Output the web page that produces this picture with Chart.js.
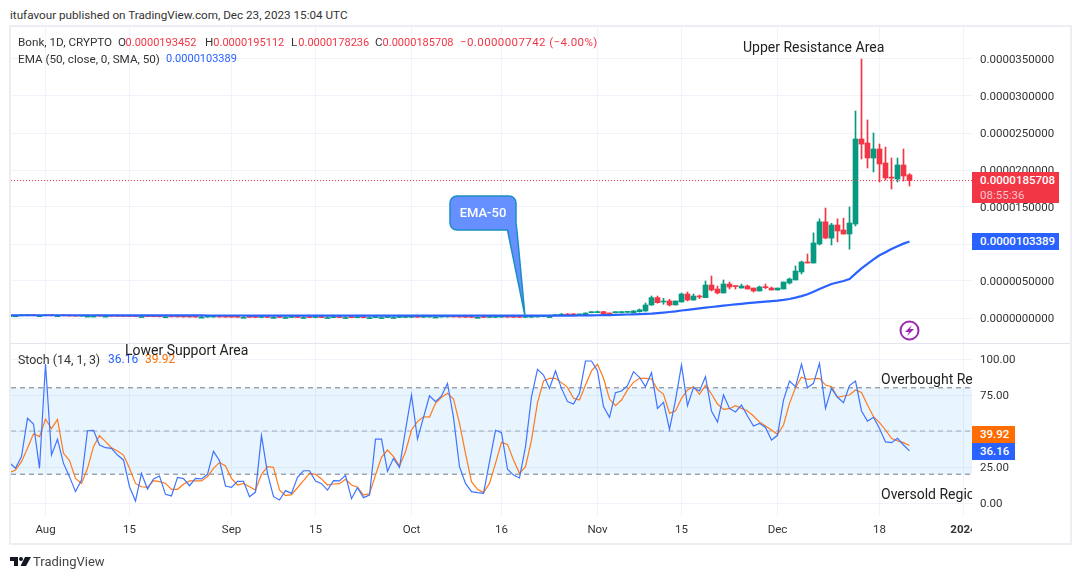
<!DOCTYPE html>
<html lang="en">
<head>
<meta charset="UTF-8">
<title>Bonk, 1D, CRYPTO</title>
<script src="https://cdn.jsdelivr.net/npm/chart.js@4"></script>
<style>
  body, html { margin: 0; height: 579px; width: 1080px; background: #fff; overflow: hidden; }
  body { font-family: Roboto, sans-serif; font-size: 11.7px; color: #333; position: relative; }
  .abs { position: absolute; white-space: nowrap; }
  canvas { position: absolute; }
  #frame { left: 9px; top: 25px; width: 1059px; height: 516px; border: 2px solid #eceef4; }
  #divider { left: 11px; top: 343px; width: 1059px; height: 1px; background: #e3e5ec; }
  #axisCover { left: 972px; top: 517px; width: 97px; height: 26px; background: #fff; }
  .note { font-size: 14px; color: #222; line-height: 18px; overflow: hidden; }
  .tag { color: #fff; font-size: 11.5px; font-weight: 500; padding-left: 8px; box-sizing: border-box; height: 17px; line-height: 17px; }
  .val { font-size: 11px; }
  .red { color: #f23645; } .blue { color: #2962ff; } .orange { color: #ff6d00; }
</style>
</head>
<body>
<div class="abs" style="left:10px;top:8px">itufavour published on TradingView.com, Dec 23, 2023 15:04 UTC</div>
<div class="abs" id="frame"></div>
<canvas id="priceChart" width="1059" height="316" style="left:11px;top:27px"></canvas>
<canvas id="stochChart" width="1059" height="199" style="left:11px;top:344px"></canvas>
<div class="abs" id="divider"></div>
<div class="abs" id="axisCover"></div>

<div class="abs" style="left:18px;top:35px">Bonk, 1D, CRYPTO</div>
<div class="abs" style="left:118px;top:35px">O<span class="red val" style="margin-left:-.5px">0.0000193452</span></div>
<div class="abs" style="left:205px;top:35px">H<span class="red val">0.0000195112</span></div>
<div class="abs" style="left:291px;top:35px">L<span class="red val" style="margin-left:1px">0.0000178236</span></div>
<div class="abs" style="left:375px;top:35px">C<span class="red val">0.0000185708</span></div>
<div class="abs red" style="left:460px;top:35px;font-size:11.5px;letter-spacing:.4px">−0.0000007742 (−4.00%)</div>
<div class="abs" style="left:18px;top:52px">EMA (50, close, 0, SMA, 50)</div>
<div class="abs blue val" style="left:166px;top:52px">0.0000103389</div>
<div class="abs" style="left:18px;top:352px;font-size:12.4px">Stoch (14, 1, 3)</div>
<div class="abs blue" style="left:108px;top:352px;font-size:12px">36.16</div>
<div class="abs orange" style="left:145px;top:352px;font-size:12px">39.92</div>

<div class="abs note" style="left:743px;top:38px">Upper Resistance Area</div>
<div class="abs note" style="left:125px;top:341px">Lower Support Area</div>
<div class="abs note" style="left:881px;top:370px;width:91px">Overbought Region</div>
<div class="abs note" style="left:881px;top:485px;width:91px">Oversold Region</div>

<div class="abs tag" style="left:972px;top:172px;width:87px;height:31px;background:#f23645;line-height:15px;padding-top:1px">0.0000185708<br><span style="color:#fbc4ca;font-weight:400">08:55:36</span></div>
<div class="abs tag" style="left:972px;top:233px;width:87px;background:#2962ff">0.0000103389</div>
<div class="abs tag" style="left:972px;top:426px;width:43px;background:#ff6d00">39.92</div>
<div class="abs tag" style="left:972px;top:443px;width:43px;background:#2962ff">36.16</div>

<svg class="abs" width="1080" height="579" style="left:0;top:0;pointer-events:none">
  <path d="M457,196 H509 A7,7 0 0 1 516,203 V223 L517,231 L525,316 L507.5,230 H457 A7,7 0 0 1 450,223 V203 A7,7 0 0 1 457,196 Z" fill="#6690ff" stroke="#1a8fc4" stroke-width="1.5"/>
  <text x="483" y="216.5" text-anchor="middle" fill="#fff" font-family="Roboto, sans-serif" font-size="13" font-weight="500">EMA-50</text>
  <circle cx="909.5" cy="330.5" r="9" fill="#fff" stroke="#9c27b0" stroke-width="2"/>
  <path d="M912,325 L905,332 H909 L907,336 L914,329 H910 Z" fill="#9c27b0"/>
  <path d="M10,557 H18 V566 H14 V561 H10 Z" fill="#131722"/>
  <circle cx="21" cy="559" r="2" fill="#131722"/>
  <path d="M25,557 H31 L26,566 H20.5 Z" fill="#131722"/>
</svg>
<div class="abs" style="left:33px;top:554px;font-size:13px;color:#444">TradingView</div>

<script>
// bars run daily, x is days since Aug 1 2023 (-6 = Jul 26). prices are in millionths
const firstDay = -6;
const opens = [
  .30,.30,.30,.31,.32,.31,.31,.32,.31,.31, .30,.27,.25,.26,.26,.26,.25,.25,.24,.23,
  .22,.21,.20,.20,.19,.18,.17,.17,.16,.15, .14,.13,.12,.12,.13,.14,.13,.12,.11,.10,
  .10,.09,.08,.09,.08,.08,.07,.07,.08,.07, .07,.06,.07,.06,.06,.07,.06,.06,.05,.06,
  .05,.05,.06,.06,.07,.07,.08,.09,.11,.10, .12,.13,.13,.14,.15,.14,.12,.10,.09,.09,
  .08,.09,.11,.12,.11,.10,.09,.10,.14,.18, .19,
  .31,.38,.47,.50,.42,.38,.72,.72,.86,.60, .72,.73,.76,.70,.85,.95,1.76,2.75,2.16,2.30,
  1.76,2.16,3.24,2.43,2.92,2.75,4.46,3.92,3.38,4.59, 4.32,4.05,4.32,4.05,3.65,4.17,4.05,3.78,3.92,4.73,
  5.14,6.22,7.57,7.43,10.0,13.0,10.8,12.57,11.89,11.35, 12.7,24.19,23.65,21.62,22.84,20.95,19.0,18.78,20.68,19.3452
];
const closes = [
  .30,.30,.31,.32,.31,.31,.32,.31,.31,.30, .27,.25,.26,.26,.26,.25,.25,.24,.23,.22,
  .21,.20,.20,.19,.18,.17,.17,.16,.15,.14, .13,.12,.12,.13,.14,.13,.12,.11,.10,.10,
  .09,.08,.09,.08,.08,.07,.07,.08,.07,.07, .06,.07,.06,.06,.07,.06,.06,.05,.06,.05,
  .05,.06,.06,.07,.07,.08,.09,.11,.10,.12, .13,.13,.14,.15,.14,.12,.10,.09,.09,.08,
  .09,.11,.12,.11,.10,.09,.10,.14,.18,.19, .19,
  .38,.47,.40,.42,.48,.67,.78,.78,.54,.55, .78,.79,.82,.95,1.1,1.76,2.75,2.07,2.22,1.76,
  2.30,3.24,2.43,2.97,2.84,4.46,3.78,3.38,4.59,4.19, 4.25,4.32,3.92,3.65,4.19,4.10,3.78,4.05,4.86,5.27,
  6.35,7.57,7.43,10.14,13.0,10.8,12.57,11.76,11.35,12.84, 24.19,23.5,21.62,22.84,20.81,18.92,18.9,20.68,19.19,18.5708
];
const highs = [
  .32,.32,.33,.34,.34,.33,.34,.34,.33,.33, .32,.29,.28,.28,.28,.28,.27,.27,.26,.25,
  .24,.23,.22,.22,.21,.20,.19,.19,.18,.17, .16,.15,.14,.15,.16,.16,.15,.14,.13,.12,
  .12,.11,.11,.11,.10,.10,.09,.10,.10,.09, .09,.09,.09,.08,.09,.09,.08,.08,.08,.08,
  .07,.08,.08,.09,.09,.10,.11,.13,.13,.14, .15,.15,.16,.17,.17,.16,.14,.12,.11,.11,
  .11,.13,.14,.14,.13,.12,.12,.16,.20,.21, .21,
  .45,.62,.60,.60,.52,.70,.82,.95,.90,.62, .80,.81,.84,1.0,1.22,2.03,2.97,2.97,2.66,2.52,
  2.30,3.38,3.51,3.24,3.11,5.0,5.68,4.32,5.14,4.86, 4.32,4.59,4.46,4.05,4.32,4.59,4.19,4.05,4.86,5.4,
  7.03,7.7,8.65,11.5,13.4,14.86,12.8,13.4,13.5,15.0, 27.97,35.0,26.76,25.0,23.51,23.1,21.62,21.62,22.84,19.5112
];
const lows = [
  .28,.28,.28,.29,.29,.29,.29,.29,.29,.28, .25,.23,.23,.24,.24,.23,.23,.22,.21,.20,
  .19,.18,.18,.17,.16,.15,.15,.14,.13,.12, .11,.10,.10,.10,.11,.11,.10,.09,.08,.08,
  .07,.06,.06,.06,.06,.05,.05,.05,.05,.05, .04,.04,.04,.04,.04,.04,.04,.03,.03,.03,
  .03,.03,.04,.04,.05,.05,.06,.07,.08,.08, .10,.11,.11,.12,.12,.10,.08,.07,.07,.06,
  .06,.07,.09,.09,.08,.07,.07,.08,.12,.16, .17,
  .28,.33,.35,.35,.38,.36,.70,.70,.50,.52, .70,.71,.74,.68,.80,.90,1.70,2.0,1.85,1.62,
  1.76,2.16,2.30,2.40,2.61,2.75,3.65,3.24,3.38,3.92, 3.92,4.05,3.92,3.51,3.65,3.97,3.78,3.78,3.92,4.59,
  5.14,5.95,7.43,7.43,9.86,10.7,9.86,10.27,11.35,9.3, 12.43,21.49,20.27,19.73,18.38,18.65,17.43,18.38,18.51,17.8236
];
const ema = [
  .37,.37,.37,.37,.37,.37,.37,.37,.37,.37, .37,.37,.37,.37,.37,.37,.36,.36,.36,.36,
  .36,.36,.36,.36,.36,.35,.35,.35,.35,.35, .35,.35,.35,.34,.34,.34,.34,.34,.34,.34,
  .33,.33,.33,.33,.33,.33,.33,.33,.33,.33, .33,.33,.33,.33,.33,.33,.33,.33,.33,.33,
  .32,.32,.32,.32,.32,.32,.32,.32,.32,.32, .32,.32,.32,.32,.32,.32,.32,.32,.32,.32,
  .31,.31,.31,.31,.31,.31,.31,.31,.31,.31, .31,
  .32,.32,.33,.33,.34,.35,.36,.37,.39,.40, .42,.45,.47,.50,.53,.56,.60,.66,.73,.81,
  .90,1.01,1.10,1.20,1.30,1.40,1.49,1.58,1.67,1.76, 1.84,1.92,2.0,2.07,2.14,2.21,2.28,2.35,2.45,2.57,
  2.75,2.95,3.2,3.55,3.92,4.26,4.6,4.8,5.0,5.27, 6.0,6.71,7.3,7.93,8.47,8.88,9.32,9.7,10.05,10.3389
];
const stochK = [
  28.0,24.1,32.2,58.8,54.9,24.1,96.5,33.3,44.2,27.5, 18.3,7.9,16.0,50.2,50.5,40.3,38.4,38.0,33.3,29.9,
  11.3,1.4,20.6,9.7,16.7,18.7,6.0,4.9,17.8,16.9, 12.0,17.1,16.7,19.9,35.9,29.4,11.8,10.9,15.0,15.0,
  4.4,7.6,47.0,20.6,4.4,2.1,8.6,6.7,17.8,22.4, 22.4,15.3,13.4,9.0,15.5,15.3,19.2,3.0,10.6,3.7,
  5.5,44.4,44.4,22.0,31.0,24.8,50.7,75.0,44.4,59.5, 74.5,70.4,74.3,83.1,59.5,25.2,13.6,7.9,7.2,6.7,
  28.5,50.5,48.8,23.4,19.4,17.4,39.1,73.8,92.8,88.9, 79.6,91.7,79.6,70.4,68.7,76.2,98.6,98.6,91.7,66.9,
  59.5,76.6,77.8,81.5,91.2,87.3,80.8,90.5,65.7,69.9, 51.2,71.5,95.8,67.6,80.1,77.8,87.7,63.9,56.2,75.0,
  65.7,63.2,68.0,60.4,53.5,55.3,52.5,43.7,47.0,71.5, 84.7,80.8,96.5,80.1,83.1,97.0,65.7,79.6,73.4,69.7,
  81.5,84.7,63.9,56.9,59.5,51.8,42.4,41.9,44.9,40.3, 36.16
];
const stochD = [
  21.1,22.9,28.7,38.0,48.1,46.1,58.3,51.6,58.1,34.5, 29.4,17.1,13.6,24.1,39.1,46.8,42.6,38.4,36.1,33.3,
  24.1,13.6,11.3,10.9,15.5,14.8,13.6,9.5,9.5,13.0, 15.3,15.3,15.3,18.3,24.1,28.2,25.7,17.1,12.5,13.6,
  11.3,9.0,19.9,25.2,24.8,9.0,5.1,5.8,10.6,15.5, 20.6,19.9,16.7,12.5,13.2,13.4,16.4,12.5,10.9,5.5,
  6.5,19.4,31.7,36.8,32.2,25.7,35.6,50.7,56.5,59.9, 59.7,69.2,73.4,76.2,72.2,55.3,34.5,14.8,9.5,7.2,
  13.6,27.5,42.1,40.7,29.9,20.6,25.2,43.7,69.7,84.7, 86.6,86.6,83.6,80.3,72.7,71.5,81.9,91.7,96.3,86.6,
  72.2,67.6,71.5,78.5,83.8,86.6,86.6,86.1,78.9,75.5, 62.3,63.9,72.7,78.5,80.8,75.5,81.7,75.7,68.7,65.0,
  65.5,67.6,65.7,63.9,60.4,56.2,53.5,50.7,47.7,54.2, 69.2,80.1,87.3,85.9,86.3,86.6,81.9,80.8,73.4,74.3,
  75.0,78.5,76.8,68.0,59.9,55.8,50.7,44.9,43.1,41.9, 39.92
];
const tickDays = [0, 14, 31, 45, 61, 76, 92, 106, 122, 139, 153];
const tickLabels = ['Aug', '15', 'Sep', '15', 'Oct', '16', 'Nov', '15', 'Dec', '18', '2024'];
const priceTicks = [0, 5, 10, 15, 20, 25, 30, 35];
const stochTicks = [0, 25, 50, 75, 100];
const lastClose = 18.5708;
const bandTop = 80, bandMid = 50, bandBottom = 20;

Chart.defaults.animation = false;
Chart.defaults.font.family = 'Roboto, sans-serif';
Chart.defaults.font.size = 11.5;
Chart.defaults.color = '#333';

const UP = '#089981', DOWN = '#f23645', GRID = '#f0f3fa';
const xMin = -5.75, xMax = -5.75 + 961 / 6;   // 6px per day
const pts = arr => arr.map((v, i) => ({ x: firstDay + i, y: v }));
const candleColors = closes.map((c, i) => c >= opens[i] ? UP : DOWN);
const hLine = (y, extra) => Object.assign({
  type: 'line', data: [{ x: xMin, y }, { x: xMax, y }], pointRadius: 0, borderWidth: 1
}, extra);

// no label padding, plot areas have to sit on exact pixels
const noPad = s => { s.paddingTop = s.paddingBottom = s.paddingLeft = s.paddingRight = 0; };
const fitY = s => { s.width = 98; noPad(s); };
const setDayTicks = a => { a.ticks = tickDays.map(v => ({ value: v })); };

new Chart(document.getElementById('priceChart'), {
  data: {
    datasets: [
      { type: 'line', data: pts(ema), borderColor: '#2962ff', borderWidth: 2.2, pointRadius: 0, order: 0 },
      hLine(lastClose, { borderColor: DOWN, borderDash: [1, 2], order: 1 }),
      { type: 'bar', data: pts(opens.map((o, i) => [o, closes[i]])), backgroundColor: candleColors,
        barThickness: 5, minBarLength: 1, grouped: false, order: 2 },
      { type: 'bar', data: pts(lows.map((l, i) => [l, highs[i]])), backgroundColor: candleColors,
        barThickness: 1, minBarLength: 1, grouped: false, order: 3 }
    ]
  },
  options: {
    responsive: false,
    layout: { padding: 0 },
    plugins: { legend: { display: false }, tooltip: { enabled: false } },
    scales: {
      x: {
        type: 'linear', min: xMin, max: xMax, offset: false,
        afterBuildTicks: setDayTicks,
        afterFit: s => { s.height = 0; noPad(s); },
        grid: { color: GRID, offset: false, drawTicks: false },
        border: { display: false },
        ticks: { display: false }
      },
      y: {
        position: 'right', min: (318 - 343) / 7.4, max: (318 - 27) / 7.4,
        afterBuildTicks: a => { a.ticks = priceTicks.map(v => ({ value: v })); },
        afterFit: fitY,
        grid: { color: GRID, drawTicks: false },
        border: { display: false },
        ticks: { padding: 8, labelOffset: 1, callback: v => (v / 1e6).toFixed(10) }
      }
    }
  }
});

new Chart(document.getElementById('stochChart'), {
  data: {
    datasets: [
      { type: 'line', data: pts(stochK), borderColor: '#3f74ff', borderWidth: 1.2, pointRadius: 0, order: 0 },
      { type: 'line', data: pts(stochD), borderColor: '#ff7a1a', borderWidth: 1.2, pointRadius: 0, order: 1 },
      hLine(bandTop, { borderColor: '#787b86', borderDash: [5, 4], order: 2, fill: '+1', backgroundColor: 'rgba(33,150,243,0.1)' }),
      hLine(bandBottom, { borderColor: '#787b86', borderDash: [5, 4], order: 3 }),
      hLine(bandMid, { borderColor: 'rgba(120,123,134,0.6)', borderDash: [5, 4], order: 4 })
    ]
  },
  options: {
    responsive: false,
    layout: { padding: 0 },
    plugins: { legend: { display: false }, tooltip: { enabled: false } },
    scales: {
      x: {
        type: 'linear', min: xMin, max: xMax, offset: false,
        afterBuildTicks: setDayTicks,
        afterFit: s => { s.height = 27; noPad(s); },
        grid: { color: GRID, offset: false, tickLength: 0 },
        border: { display: false },
        ticks: {
          autoSkip: false, maxRotation: 0, padding: 7,
          font: c => c.tick && c.tick.value === 153 ? { weight: 'bold' } : {},
          callback: v => tickLabels[tickDays.indexOf(v)]
        }
      },
      y: {
        position: 'right', min: (503 - 516) / 1.44, max: (503 - 344) / 1.44,
        afterBuildTicks: a => { a.ticks = stochTicks.map(v => ({ value: v })); },
        afterFit: fitY,
        grid: { color: GRID, drawTicks: false },
        border: { display: false },
        ticks: { padding: 8, labelOffset: 1, callback: v => v.toFixed(2) }
      }
    }
  }
});
</script>
</body>
</html>
